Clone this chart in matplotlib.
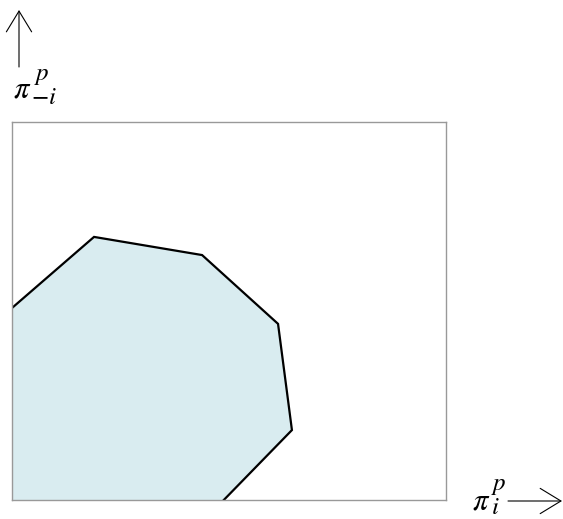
import matplotlib.pyplot as plt

# frontier vertices (share of each axis), walked from the left edge round to the bottom edge
px = [0.0, 0.189, 0.438, 0.613, 0.645, 0.488]
py = [0.508, 0.696, 0.648, 0.466, 0.185, 0.0]

W, H = 563, 519
plt.rcParams['mathtext.fontset'] = 'stix'

fig = plt.figure(figsize=(W / 100, H / 100), dpi=100)
ax = fig.add_axes([12 / W, 19 / H, 434 / W, 378 / H])

# region below the frontier, closed through the origin
ax.fill(px + [0.0], py + [0.0], color='#d9ecf0', lw=0)
ax.plot(px, py, color='black', lw=1.6, solid_joinstyle='miter')

ax.set_xlim(0, 1)
ax.set_ylim(0, 1)
ax.set_xticks([])
ax.set_yticks([])
for s in ax.spines.values():
    s.set_color('#999999')
    s.set_linewidth(1.0)


def fpos(x, y):
    # pixel position (from the top left) -> figure fraction
    return x / W, 1 - y / H


# axis arrows
arrow = dict(arrowstyle='->,head_length=1.15,head_width=0.7', lw=0.8,
             color='black', mutation_scale=13, shrinkA=0, shrinkB=0)
ax.annotate('', xy=fpos(19, 10), xytext=fpos(19, 67),
            xycoords='figure fraction', textcoords='figure fraction', arrowprops=arrow)
ax.annotate('', xy=fpos(562, 501), xytext=fpos(508, 501),
            xycoords='figure fraction', textcoords='figure fraction', arrowprops=arrow)


def label(pi_xy, sup_xy, sub_xy, sub):
    # pi with a large superscript p and a subscript, each placed on its own baseline
    fig.text(*fpos(*pi_xy), r'$\pi$', fontsize=22, va='baseline', ha='left')
    fig.text(*fpos(*sup_xy), r'$p$', fontsize=18, va='baseline', ha='left')
    fig.text(*fpos(*sub_xy), sub, fontsize=18, va='baseline', ha='left')


label((13, 98), (34, 80), (31, 104), r'$-i$')
label((472, 509), (491, 490), (491, 514), r'$i$')

fig.savefig('out.png', dpi=100)
